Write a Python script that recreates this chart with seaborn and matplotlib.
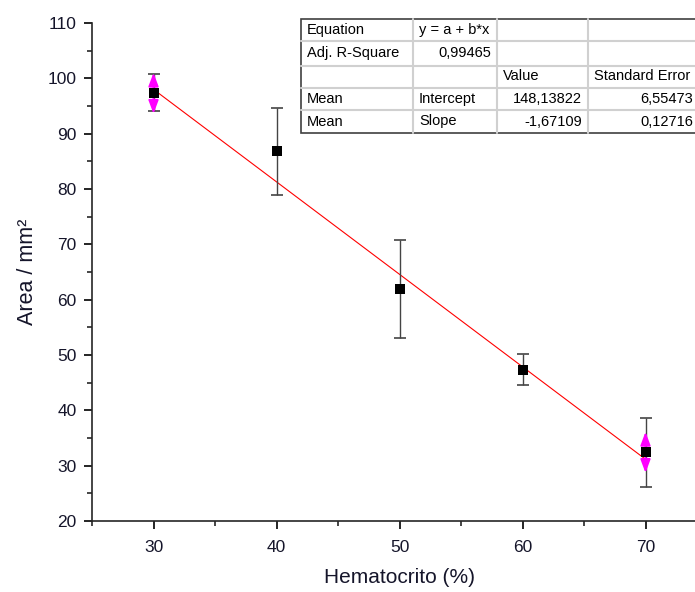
import matplotlib
matplotlib.use("Agg")
import matplotlib.pyplot as plt
import seaborn as sns
import numpy as np
import pandas as pd
from matplotlib.lines import Line2D
from matplotlib.patches import Rectangle
from matplotlib.ticker import MultipleLocator

# ---- data ----
hematocrit = [30, 40, 50, 60, 70]
area_mean = [97.4, 86.8, 61.9, 47.3, 32.4]
area_err = [3.3, 7.9, 8.9, 2.8, 6.3]

arrow_x = [30, 70]
arrow_mid = [97.4, 32.4]
arrow_low = [93.6, 28.7]
arrow_high = [101.0, 36.1]

fit_intercept = 148.13822
fit_slope = -1.67109
fit_x = [30, 70]

table_rows = [
    ["Equation", "y = a + b*x", "", ""],
    ["Adj. R-Square", "0,99465", "", ""],
    ["", "", "Value", "Standard Error"],
    ["Mean", "Intercept", "148,13822", "6,55473"],
    ["Mean", "Slope", "-1,67109", "0,12716"],
]
table_align = [
    ["left", "left", "left", "left"],
    ["left", "right", "left", "left"],
    ["left", "left", "left", "left"],
    ["left", "left", "right", "right"],
    ["left", "left", "right", "right"],
]

x_label = "Hematocrito (%)"
y_label = "Area / mm²"

# ---- style ----
sns.set_style("ticks")
plt.rcParams["font.family"] = ["Liberation Sans", "DejaVu Sans"]

W, H = 695, 592
fig = plt.figure(figsize=(W / 100, H / 100), dpi=100)
ax_left, ax_bottom_px, ax_top_px = 92, 521, 23
px_per_x = 12.3
ax_w = 50 * px_per_x
ax = fig.add_axes([ax_left / W, (H - ax_bottom_px) / H, ax_w / W, (ax_bottom_px - ax_top_px) / H])

df = pd.DataFrame({"x": hematocrit, "y": area_mean, "err": area_err})
fit_df = pd.DataFrame({"x": fit_x, "y": [fit_intercept + fit_slope * v for v in fit_x]})

# fit line
sns.lineplot(data=fit_df, x="x", y="y", color="red", linewidth=0.8, ax=ax, zorder=2)

# error bars
ax.errorbar(df["x"], df["y"], yerr=df["err"], fmt="none", ecolor="#444444",
            elinewidth=1.0, capsize=4, capthick=1.2, zorder=3)

# magenta arrows
for xv, lo, hi, mid in zip(arrow_x, arrow_low, arrow_high, arrow_mid):
    for tip in (hi, lo):
        ax.annotate("", xy=(xv, tip), xytext=(xv, mid),
                    arrowprops=dict(arrowstyle="-|>,head_length=0.8,head_width=0.3",
                                    color="magenta", lw=1.4, shrinkA=0, shrinkB=0),
                    zorder=4)

# markers
sns.scatterplot(data=df, x="x", y="y", marker="s", s=62, color="black",
                edgecolor="black", linewidth=0, ax=ax, zorder=5)

ax.set_xlim(25, 75)
ax.set_ylim(20, 110)
ax.xaxis.set_major_locator(MultipleLocator(10))
ax.xaxis.set_minor_locator(MultipleLocator(5))
ax.yaxis.set_major_locator(MultipleLocator(10))
ax.yaxis.set_minor_locator(MultipleLocator(5))
ax.tick_params(axis="both", which="major", direction="out", length=6, width=1.2,
               labelsize=12.5, colors="black", labelcolor="#15152a")
ax.tick_params(axis="x", which="major", pad=8)
ax.tick_params(axis="y", which="major", pad=5)
ax.tick_params(axis="both", which="minor", direction="out", length=3.5, width=1.2)
for s in ("top", "right"):
    ax.spines[s].set_visible(False)
for s in ("left", "bottom"):
    ax.spines[s].set_linewidth(1.2)
ax.set_xlabel(x_label, fontsize=15, labelpad=9, color="#15152a")
ax.set_ylabel(y_label, fontsize=15.5, labelpad=7, color="#15152a")

# ---- table (figure pixel coords) ----
col_edges = [301, 413, 497, 588, 699]
row_edges = [19, 41, 65.5, 87.5, 110, 133]
pad = 6

def fx(p):
    return p / W

def fy(p):
    return 1 - p / H

fig.add_artist(Rectangle((fx(col_edges[0]), fy(row_edges[-1])),
                         fx(col_edges[-1] - col_edges[0]), (row_edges[-1] - row_edges[0]) / H,
                         transform=fig.transFigure, facecolor="white",
                         edgecolor="#404040", linewidth=1.2, zorder=10))
for r in row_edges[1:-1]:
    fig.add_artist(Line2D([fx(col_edges[0]), fx(col_edges[-1])], [fy(r), fy(r)],
                          transform=fig.transFigure, color="#d0d0d0", lw=1.5, zorder=11))
for c in col_edges[1:-1]:
    fig.add_artist(Line2D([fx(c), fx(c)], [fy(row_edges[0]), fy(row_edges[-1])],
                          transform=fig.transFigure, color="#d0d0d0", lw=1.5, zorder=11))
for i, row in enumerate(table_rows):
    yc = (row_edges[i] + row_edges[i + 1]) / 2
    for j, txt in enumerate(row):
        if not txt:
            continue
        al = table_align[i][j]
        xp = col_edges[j] + pad if al == "left" else col_edges[j + 1] - pad
        fig.text(fx(xp), fy(yc), txt, ha=al, va="center", fontsize=10.5,
                 color="black", zorder=12)

fig.savefig("out.png", dpi=100)
